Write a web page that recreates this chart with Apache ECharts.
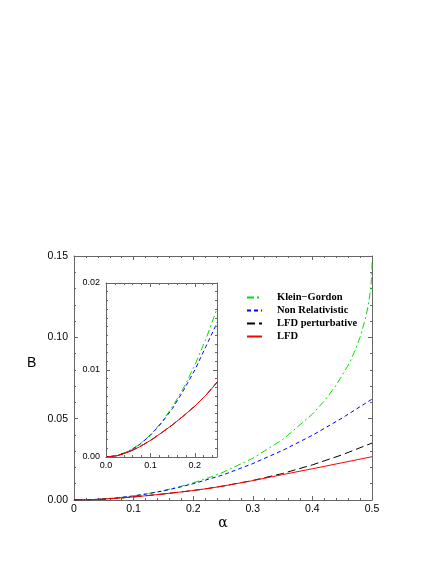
<!DOCTYPE html>
<html>
<head>
<meta charset="utf-8">
<script src="https://cdn.jsdelivr.net/npm/echarts@6/dist/echarts.min.js"></script>
<style>
  html, body { margin: 0; padding: 0; background: #fff; }
  #chart { width: 436px; height: 564px; }
</style>
</head>
<body>
<div id="chart"></div>
<script>
// alpha values shared by the three lower curves
const alpha = [0, 0.025, 0.05, 0.075, 0.1, 0.125, 0.15, 0.175, 0.2, 0.225, 0.25, 0.3, 0.35, 0.4, 0.45, 0.5]
const nonRel = [0, 0.00016, 0.00063, 0.0014, 0.0025, 0.0039, 0.0056, 0.0077, 0.0100, 0.0127, 0.0154, 0.0224, 0.0305, 0.0398, 0.0504, 0.0620]
const lfdPert = [0, 0.00015, 0.00056, 0.00115, 0.0019, 0.00278, 0.00371, 0.00475, 0.00585, 0.0071, 0.0086, 0.0120, 0.0163, 0.0216, 0.0278, 0.0350]
const lfd = [0, 0.00015, 0.00056, 0.00115, 0.0019, 0.00278, 0.00371, 0.00475, 0.00584, 0.00709, 0.00856, 0.0119, 0.0156, 0.0192, 0.0229, 0.0266]

// Klein-Gordon is read more densely near 0.5 where it turns up
const alphaKG = [0, 0.025, 0.05, 0.075, 0.1, 0.125, 0.15, 0.175, 0.2, 0.225, 0.25, 0.3, 0.35, 0.4, 0.42, 0.44, 0.46, 0.47, 0.48, 0.49, 0.495, 0.4975, 0.499, 0.4999, 0.5]
const kleinGordon = [0, 0.00016, 0.00063, 0.00142, 0.00253, 0.00399, 0.00579, 0.00797, 0.01055, 0.01355, 0.01704, 0.02566, 0.03711, 0.05279, 0.06088, 0.07061, 0.08288, 0.09055, 0.1000, 0.11286, 0.12233, 0.12921, 0.13544, 0.14293, 0.14645]

const seriesNames = ['Klein−Gordon', 'Non Relativistic', 'LFD perturbative', 'LFD']

const frame = '#666'
const tickFont = 'Liberation Sans'

function pairs(xs, ys) {
    return xs.map((x, i) => [x, ys[i]])
}

function axisX(gridIndex, min, max, interval, fmt, show, pos) {
    return {
        type: 'value', gridIndex: gridIndex, position: pos,
        min: min, max: max, interval: interval,
        z: gridIndex === 0 ? 0 : 8,
        axisLine: { onZero: false, lineStyle: { color: frame, width: 1 } },
        axisTick: { inside: true, length: 4, lineStyle: { color: frame } },
        minorTick: { show: true, splitNumber: 5, length: 2, lineStyle: { color: frame } },
        splitLine: { show: false },
        axisLabel: { show: show, formatter: fmt, color: '#000', fontFamily: tickFont, fontSize: gridIndex === 0 ? 10.5 : 9, margin: 4 }
    }
}

function axisY(gridIndex, min, max, interval, minor, fmt, show, pos) {
    return {
        type: 'value', gridIndex: gridIndex, position: pos,
        min: min, max: max, interval: interval,
        z: gridIndex === 0 ? 0 : 8,
        axisLine: { onZero: false, lineStyle: { color: frame, width: 1 } },
        axisTick: { inside: true, length: 4, lineStyle: { color: frame } },
        minorTick: { show: true, splitNumber: minor, length: 2, lineStyle: { color: frame } },
        splitLine: { show: false },
        axisLabel: { show: show, formatter: fmt, color: '#000', fontFamily: tickFont, fontSize: gridIndex === 0 ? 10.5 : 9, margin: 6 }
    }
}

const styles = [
    { color: '#00e000', type: [7, 3, 2, 3] },
    { color: '#0000ff', type: [4, 3] },
    { color: '#000000', type: [8, 4] },
    { color: '#ff0000', type: 'solid' }
]
const datasets = [
    pairs(alphaKG, kleinGordon),
    pairs(alpha, nonRel),
    pairs(alpha, lfdPert),
    pairs(alpha, lfd)
]

let series = []
// main plot (g=0) then the inset (g=1) drawn above its white box
for (let g = 0; g < 2; g++) {
    seriesNames.forEach((name, i) => {
        series.push({
            name: name,
            type: 'line',
            xAxisIndex: g === 0 ? 0 : 2,
            yAxisIndex: g === 0 ? 0 : 2,
            data: datasets[i],
            showSymbol: false,
            symbol: 'none',
            clip: true,
            lineStyle: { color: styles[i].color, type: styles[i].type, width: 1 },
            itemStyle: { color: styles[i].color },
            z: (g === 0 ? 2 : 6) + (i === 3 ? 1 : 0)
        })
    })
}

let myChart = echarts.init(document.getElementById('chart'))
myChart.setOption({
    animation: false,
    backgroundColor: '#fff',
    grid: [
        { left: 74, top: 256, width: 298, height: 244 },
        { left: 106, top: 283, width: 111, height: 174, backgroundColor: '#fff', show: true, borderWidth: 0, z: 5 }
    ],
    xAxis: [
        Object.assign(axisX(0, 0, 0.5, 0.1, v => v === 0 ? '0' : v.toFixed(1), true, 'bottom'), {
            name: 'α', nameLocation: 'middle', nameGap: 15,
            nameTextStyle: { fontFamily: 'DejaVu Serif', fontSize: 14, color: '#000' }
        }),
        axisX(0, 0, 0.5, 0.1, null, false, 'top'),
        axisX(1, 0, 0.25, 0.1, v => Math.abs(v * 10 - Math.round(v * 10)) > 1e-6 ? '' : v.toFixed(1), true, 'bottom'),
        axisX(1, 0, 0.25, 0.1, null, false, 'top')
    ],
    yAxis: [
        axisY(0, 0, 0.15, 0.05, 5, v => v.toFixed(2), true, 'left'),
        axisY(0, 0, 0.15, 0.05, 5, null, false, 'right'),
        axisY(1, 0, 0.02, 0.01, 10, v => v.toFixed(2), true, 'left'),
        axisY(1, 0, 0.02, 0.01, 10, null, false, 'right')
    ],
    graphic: [
        {
            type: 'text', left: 27, top: 356,
            style: { text: 'B', fontFamily: tickFont, fontSize: 14, fill: '#000' }
        }
    ],
    legend: {
        data: seriesNames,
        orient: 'vertical',
        left: 241,
        top: 287,
        itemWidth: 15,
        itemHeight: 8,
        itemGap: 2,
        selectedMode: false,
        itemStyle: { opacity: 0 },
        textStyle: {
            fontFamily: 'Liberation Serif', fontWeight: 'bold', fontSize: 10.5,
            color: '#000', lineHeight: 11, padding: [0, 0, 0, 10]
        }
    },
    series: series
})
</script>
</body>
</html>
